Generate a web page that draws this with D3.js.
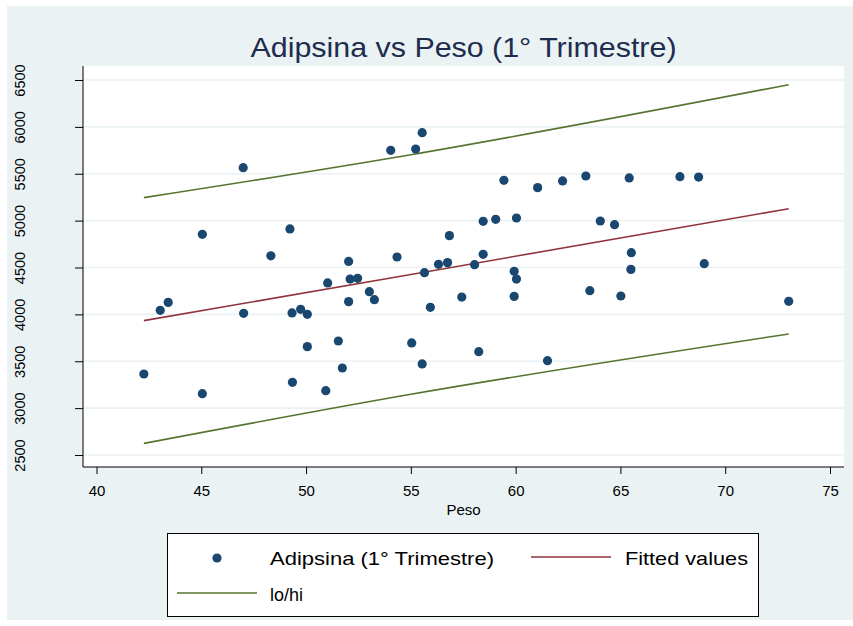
<!DOCTYPE html>
<html>
<head>
<meta charset="utf-8">
<script src="https://cdn.jsdelivr.net/npm/d3@7"></script>
<style>
  body { margin: 0; background: #fff; }
  text { font-family: "Liberation Sans", Arial, sans-serif; }
</style>
</head>
<body>
<svg id="chart" width="853" height="626"></svg>
<script>
// scatter data: Peso (x) vs Adipsina (y)
var peso = [47.0, 45.05, 49.23, 48.32, 54.04, 55.23, 55.54, 59.44, 61.05, 62.24,
  58.45, 59.05, 60.04, 56.84, 58.45, 54.34, 52.03, 63.35, 65.42, 67.84,
  68.73, 64.04, 64.72, 65.52, 65.5, 69.0, 63.54, 65.02, 73.03, 51.03,
  52.1, 52.46, 55.65, 56.32, 56.75, 58.04, 59.93, 60.04, 53.02, 53.26,
  52.03, 57.43, 59.93, 55.93, 51.54, 55.04, 58.24, 61.52, 51.73, 55.54,
  50.94, 43.42, 43.04, 47.02, 49.33, 49.74, 50.06, 50.06, 42.26, 45.05, 49.35]
var adipsina = [5565, 4854, 4911, 4625, 5750, 5764, 5938, 5430, 5352, 5423,
  4993, 5014, 5028, 4840, 4641, 4612, 4565, 5476, 5455, 5469,
  5465, 4996, 4957, 4658, 4480, 4541, 4253, 4196, 4139, 4335,
  4377, 4385, 4445, 4534, 4552, 4530, 4459, 4377, 4242, 4157,
  4136, 4185, 4192, 4075, 3716, 3695, 3602, 3506, 3428, 3471,
  3186, 4128, 4043, 4011, 4015, 4054, 4001, 3656, 3364, 3154, 3275]

// fitted line and lo/hi band
var lineX = [42.26, 55.0, 73.03]
var fitted = [3933, 4426, 5127]
var hiBand = [5245, 5703, 6450]
var loBand = [2624, 3148, 3791]

var xTicks = [40, 45, 50, 55, 60, 65, 70, 75]
var yTicks = [2500, 3000, 3500, 4000, 4500, 5000, 5500, 6000, 6500]

var titleText = "Adipsina vs Peso (1° Trimestre)"
var xTitle = "Peso"
var legendLabels = ["Adipsina (1° Trimestre)", "Fitted values", "lo/hi"]

var colors = { bg: "#eaf2f3", marker: "#1a476f", fit: "#90353b", band: "#55752f", title: "#1e2d4f" }

var plot = { left: 83, right: 844, top: 66, bottom: 467 }

var svg = d3.select("#chart")

// outer background
svg.append("rect")
  .attr("x", 7).attr("y", 6)
  .attr("width", 846).attr("height", 614)
  .attr("fill", colors.bg)

// plot region
svg.append("rect")
  .attr("x", plot.left).attr("y", plot.top)
  .attr("width", plot.right - plot.left).attr("height", plot.bottom - plot.top)
  .attr("fill", "#fff")

var xScale = d3.scaleLinear().domain([40, 75]).range([96.5, 830])
var yScale = d3.scaleLinear().domain([2500, 6500]).range([455, 80])

// gridlines
svg.append("g")
  .selectAll("line")
  .data(yTicks)
  .enter()
  .append("line")
    .attr("x1", plot.left)
    .attr("x2", plot.right)
    .attr("y1", function(d){ return yScale(d) })
    .attr("y2", function(d){ return yScale(d) })
    .attr("stroke", colors.bg)
    .attr("stroke-width", 1.6)

// y axis
var yAxis = d3.axisLeft(yScale).tickValues(yTicks).tickSize(8).tickFormat(d3.format("d"))
var gy = svg.append("g")
  .attr("transform", "translate(" + plot.left + ",0)")
  .call(yAxis)
gy.select(".domain").remove()
gy.append("line")
  .attr("x1", 0).attr("x2", 0)
  .attr("y1", plot.top).attr("y2", plot.bottom)
  .attr("stroke", "#000")
gy.selectAll(".tick line").attr("stroke", "#000")
gy.selectAll(".tick text")
  .attr("x", 0).attr("dy", 0)
  .attr("transform", "translate(-58,0) rotate(-90)")
  .attr("text-anchor", "middle")
  .attr("font-size", 14.5)
  .attr("font-family", "Liberation Sans, Arial, sans-serif")
  .attr("fill", "#000")

// x axis
var xAxis = d3.axisBottom(xScale).tickValues(xTicks).tickSize(7)
var gx = svg.append("g")
  .attr("transform", "translate(0," + plot.bottom + ")")
  .call(xAxis)
gx.select(".domain").remove()
gx.append("line")
  .attr("x1", plot.left).attr("x2", plot.right)
  .attr("y1", 0).attr("y2", 0)
  .attr("stroke", "#000")
gx.selectAll(".tick line").attr("stroke", "#000")
gx.selectAll(".tick text")
  .attr("y", 18).attr("dy", "0.71em")
  .attr("font-size", 15)
  .attr("font-family", "Liberation Sans, Arial, sans-serif")
  .attr("fill", "#000")

svg.append("text")
  .attr("x", (plot.left + plot.right) / 2)
  .attr("y", 515)
  .attr("text-anchor", "middle")
  .attr("font-size", 15)
  .text(xTitle)

// title
svg.append("text")
  .attr("x", (plot.left + plot.right) / 2)
  .attr("y", 57)
  .attr("text-anchor", "middle")
  .attr("font-size", 28)
  .attr("textLength", 426)
  .attr("lengthAdjust", "spacingAndGlyphs")
  .attr("fill", colors.title)
  .text(titleText)

// lines
var lineGen = function(values){
  return d3.line()
    .x(function(d, i){ return xScale(lineX[i]) })
    .y(function(d){ return yScale(d) })
    .curve(d3.curveMonotoneX)(values)
}

svg.append("path").attr("d", lineGen(hiBand))
  .attr("fill", "none").attr("stroke", colors.band).attr("stroke-width", 1.6)
svg.append("path").attr("d", lineGen(loBand))
  .attr("fill", "none").attr("stroke", colors.band).attr("stroke-width", 1.6)
svg.append("path").attr("d", lineGen(fitted))
  .attr("fill", "none").attr("stroke", colors.fit).attr("stroke-width", 1.6)

// points
svg.append("g")
  .selectAll("circle")
  .data(peso)
  .enter()
  .append("circle")
    .attr("cx", function(d){ return xScale(d) })
    .attr("cy", function(d, i){ return yScale(adipsina[i]) })
    .attr("r", 4.6)
    .attr("fill", colors.marker)

// legend
var legend = svg.append("g")
legend.append("rect")
  .attr("x", 167.5).attr("y", 533.5)
  .attr("width", 591).attr("height", 83)
  .attr("fill", "#fff")
  .attr("stroke", "#000")
  .attr("stroke-width", 1)

legend.append("circle")
  .attr("cx", 217).attr("cy", 558).attr("r", 4.6)
  .attr("fill", colors.marker)
legend.append("line")
  .attr("x1", 531).attr("x2", 611).attr("y1", 557).attr("y2", 557)
  .attr("stroke", colors.fit).attr("stroke-width", 1.6)
legend.append("line")
  .attr("x1", 177).attr("x2", 257).attr("y1", 593).attr("y2", 593)
  .attr("stroke", colors.band).attr("stroke-width", 1.6)

var legendPos = [[270, 564.5], [625, 564.5], [270, 600.5]]
var legendWidths = [224, 123, 33]
legend.selectAll("text.leg")
  .data(legendLabels)
  .enter()
  .append("text")
    .attr("class", "leg")
    .attr("x", function(d, i){ return legendPos[i][0] })
    .attr("y", function(d, i){ return legendPos[i][1] })
    .attr("font-size", 19)
    .attr("textLength", function(d, i){ return legendWidths[i] })
    .attr("lengthAdjust", "spacingAndGlyphs")
    .text(function(d){ return d })
</script>
</body>
</html>
